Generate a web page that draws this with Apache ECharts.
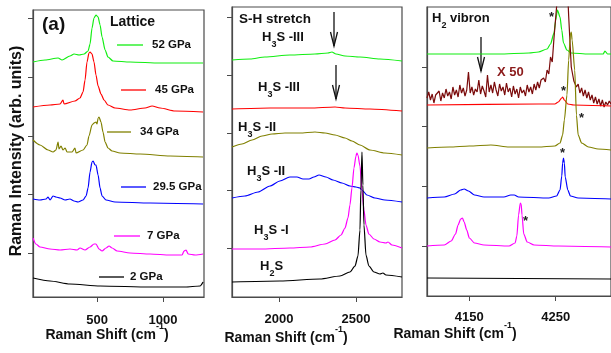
<!DOCTYPE html>
<html>
<head>
<meta charset="utf-8">
<script src="https://cdn.jsdelivr.net/npm/echarts@6.0.0/dist/echarts.min.js"></script>
<style>
html,body{margin:0;padding:0;background:#fff;}
#chart{width:611px;height:353px;}
</style>
</head>
<body>
<div id="chart"></div>
<script>
var FF = 'Liberation Sans, Arial, Helvetica, sans-serif';

var pressures = ['52 GPa', '45 GPa', '34 GPa', '29.5 GPa', '7 GPa', '2 GPa'];
var colors = ['#11ee11', '#ff0000', '#808000', '#0000ff', '#ff00ff', '#000000'];

// tick positions (cm-1) and y tick positions (arb. units)
var xTicks1 = [500, 1000];
var xTicks2 = [2000, 2500];
var xTicks3 = [4150, 4250];
var yTicks1 = [44, 103, 161, 220, 279];
var yTicks2 = [49, 107, 164, 222, 280];
var yTicks3 = [50, 110, 170, 229];

// lattice region
var latt52 = [[15,235],[106,237],[205,239],[235,237],[295,241],[326,243],[364,242],[402,243],[432,246],[447,253],[462,269],[477,279],[492,282],[508,280],[523,272],[538,260],[561,247],[583,240],[621,236],[750,235],[977,234],[1303,234]];
var latt45 = [[15,190],[144,192],[220,193],[242,197],[250,193],[333,196],[371,199],[394,205],[409,217],[424,235],[439,244],[447,245],[462,243],[477,235],[492,222],[508,211],[530,203],[553,197],[583,192],[636,189],[750,187],[864,189],[917,191],[977,189],[1091,186],[1303,185]];
var latt34 = [[15,157],[68,152],[129,147],[167,145],[189,147],[205,155],[212,148],[227,151],[242,147],[258,149],[273,145],[311,145],[333,149],[341,144],[394,147],[424,152],[439,161],[462,172],[477,174],[492,175],[500,173],[508,179],[515,180],[530,175],[545,165],[561,155],[583,149],[614,146],[674,144],[826,143],[1053,141],[1303,140]];
var latt295 = [[15,98],[68,97],[114,98],[129,100],[144,97],[167,101],[189,100],[220,99],[258,97],[295,98],[326,96],[356,95],[394,97],[417,101],[432,109],[447,125],[462,135],[470,136],[485,132],[492,132],[508,122],[523,109],[538,101],[568,97],[636,95],[902,94],[1303,93]];
var latt7 = [[15,59],[37,53],[68,50],[144,48],[220,47],[295,48],[349,47],[371,49],[409,47],[447,50],[477,53],[492,53],[515,48],[538,46],[568,49],[591,51],[614,49],[652,46],[750,44],[902,43],[1053,42],[1144,42],[1159,46],[1174,47],[1190,43],[1243,42],[1303,43]];
var latt2 = [[15,19],[144,16],[295,13],[523,11],[902,10],[1167,10],[1280,11],[1303,15]];

// S-H stretch region
var sh52 = [[1695,237],[1812,238],[1909,240],[2071,242],[2234,243],[2318,244],[2344,245],[2370,243],[2429,241],[2526,240],[2656,238],[2799,236]];
var sh45 = [[1695,188],[1942,189],[2201,189],[2364,190],[2429,189],[2591,188],[2799,186]];
var sh34 = [[1695,150],[1760,153],[1825,157],[1890,161],[1955,163],[2039,164],[2136,164],[2234,165],[2299,164],[2364,162],[2429,159],[2474,156],[2526,152],[2591,147],[2688,144],[2799,142]];
var sh295 = [[1695,99],[1779,101],[1864,105],[1942,111],[2006,116],[2071,120],[2117,120],[2156,118],[2195,118],[2227,120],[2260,122],[2305,120],[2351,117],[2409,114],[2461,111],[2500,110],[2526,109],[2545,106],[2571,102],[2623,99],[2688,97],[2799,95]];
var sh7 = [[1695,48],[1877,48],[2071,49],[2201,50],[2299,53],[2364,57],[2403,62],[2429,69],[2448,79],[2461,92],[2474,109],[2487,129],[2500,141],[2506,144],[2513,142],[2526,131],[2539,107],[2552,87],[2565,72],[2584,63],[2617,58],[2656,55],[2695,54],[2708,55],[2734,52],[2799,49]];
var sh2 = [[1695,15],[2006,16],[2266,18],[2396,21],[2461,25],[2494,31],[2513,41],[2526,67],[2532,107],[2539,145],[2545,112],[2552,72],[2565,42],[2584,31],[2617,25],[2656,23],[2675,24],[2695,22],[2799,20]];

// H2 vibron region
var vib52 = [[4101,242],[4184,242],[4219,243],[4230,244],[4240,247],[4244,252],[4248,263],[4250,276],[4252,286],[4255,279],[4257,266],[4259,253],[4263,246],[4268,243],[4288,242],[4305,242],[4307,245],[4310,242],[4314,242]];
var vib45x50 = [[4101,198],[4103,204],[4105,196],[4107,202],[4109,193],[4111,201],[4113,199],[4115,205],[4117,195],[4119,203],[4121,198],[4123,207],[4125,200],[4127,204],[4129,197],[4131,209],[4133,201],[4135,206],[4137,199],[4139,211],[4141,203],[4143,208],[4145,200],[4147,206],[4149,224],[4151,203],[4153,209],[4155,201],[4157,207],[4159,204],[4161,216],[4163,202],[4165,210],[4167,205],[4169,199],[4171,221],[4173,204],[4175,211],[4177,203],[4179,214],[4181,206],[4183,200],[4185,212],[4187,205],[4189,209],[4191,201],[4193,213],[4195,204],[4197,208],[4199,199],[4201,210],[4203,202],[4205,207],[4207,198],[4209,209],[4211,203],[4213,206],[4215,200],[4217,211],[4219,204],[4221,209],[4223,202],[4225,212],[4227,206],[4229,214],[4231,208],[4233,216],[4236,218],[4238,214],[4240,226],[4242,222],[4244,239],[4246,234],[4248,258],[4251,289],[4253,310],[4258,340],[4264,300],[4265,280],[4267,246],[4268,229],[4271,215],[4274,209],[4276,212],[4278,203],[4280,208],[4282,200],[4284,206],[4286,198],[4288,204],[4290,196],[4292,201],[4294,193],[4296,199],[4298,192],[4300,197],[4302,190],[4304,196],[4306,189],[4308,194],[4310,191],[4312,195],[4314,192]];
var vib45 = [[4101,191],[4230,192],[4249,192],[4253,194],[4257,198],[4258,199],[4260,196],[4264,192],[4271,191],[4314,190]];
var vib34 = [[4101,148],[4127,149],[4150,150],[4175,151],[4196,149],[4230,149],[4249,150],[4255,153],[4258,161],[4260,176],[4263,201],[4265,236],[4267,261],[4268,264],[4269,256],[4272,226],[4274,181],[4276,161],[4280,153],[4288,149],[4299,147],[4314,146]];
var vib295 = [[4101,98],[4121,99],[4133,102],[4140,106],[4144,107],[4149,105],[4156,101],[4167,99],[4190,99],[4198,101],[4202,101],[4207,99],[4242,98],[4251,100],[4255,106],[4257,120],[4258,133],[4259,138],[4260,133],[4261,119],[4264,106],[4267,100],[4276,98],[4314,97]];
var vib7 = [[4101,50],[4121,51],[4129,55],[4134,62],[4137,71],[4140,77],[4142,78],[4144,74],[4147,66],[4150,58],[4156,53],[4167,51],[4196,50],[4203,53],[4205,60],[4207,81],[4209,93],[4210,92],[4211,81],[4213,62],[4217,54],[4225,51],[4253,50],[4314,49]];
var vib2 = [[4101,18],[4314,17]];

var lattice = [latt52, latt45, latt34, latt295, latt7, latt2];
var stretch = [sh52, sh45, sh34, sh295, sh7, sh2];
var vibron = [vib52, vib45, vib34, vib295, vib7, vib2];

var axisColor = '#4a4a4a';

function xAx(i, min, max, ticks, margin) {
    return {
        type: 'value', gridIndex: i, min: min, max: max,
        axisLine: {show: true, onZero: false, lineStyle: {color: axisColor, width: 1.2}},
        axisTick: {show: true, inside: false, length: 5, customValues: ticks, lineStyle: {color: axisColor}},
        axisLabel: {
            customValues: ticks, margin: margin, fontSize: 13, fontWeight: 'bold', color: '#111', fontFamily: FF,
            formatter: function (v) { return String(v); }
        },
        splitLine: {show: false}
    };
}
function yAx(i, max, ticks) {
    return {
        type: 'value', gridIndex: i, min: 0, max: max,
        axisLine: {show: true, lineStyle: {color: axisColor, width: 1.2}},
        axisTick: {show: true, inside: false, length: 5, customValues: ticks, lineStyle: {color: axisColor}},
        axisLabel: {show: false, customValues: ticks},
        splitLine: {show: false}
    };
}
function line(name, data, color, idx, smooth) {
    return {
        name: name, type: 'line', data: data, xAxisIndex: idx, yAxisIndex: idx,
        symbol: 'none', showSymbol: false, silent: true,
        smooth: smooth, smoothMonotone: 'x',
        lineStyle: {color: color, width: 1.2}, itemStyle: {color: color}
    };
}

var series = [];
for (var i = 0; i < pressures.length; i++) {
    series.push(line(pressures[i], lattice[i], colors[i], 0, 0.25));
}
for (var i = 0; i < pressures.length; i++) {
    series.push(line(pressures[i], stretch[i], colors[i], 1, 0.25));
}
series.push(line(pressures[0], vibron[0], colors[0], 2, 0.25));
series.push(line('45 GPa X 50', vib45x50, '#7a0a0a', 2, false));
for (var i = 1; i < pressures.length; i++) {
    series.push(line(pressures[i], vibron[i], colors[i], 2, 0.25));
}

function txt(x, y, s, size, color, extra) {
    var st = {text: s, fontSize: size, fontWeight: 'bold', fontFamily: FF, fill: color || '#111', align: 'left', verticalAlign: 'middle'};
    var o = {type: 'text', x: x, y: y, silent: true, style: st};
    if (extra) for (var k in extra) o[k] = extra[k];
    return o;
}
// label with subscript: main, sub, main
function subTxt(x, yc, a, sub, b) {
    return {
        type: 'text', x: x, y: yc - 7, silent: true,
        style: {
            text: '{m|' + a + '}{s|' + sub + '}{m|' + b + '}',
            align: 'left', verticalAlign: 'top', fill: '#111',
            rich: {
                m: {fontSize: 13, fontWeight: 'bold', fontFamily: FF, lineHeight: 14, verticalAlign: 'top', fill: '#111'},
                s: {fontSize: 9, fontWeight: 'bold', fontFamily: FF, lineHeight: 9, padding: [9, 0, 0, 0], verticalAlign: 'top', fill: '#111'}
            }
        }
    };
}
function axName(x, y) {
    return {
        type: 'text', x: x, y: y, silent: true,
        style: {
            text: '{a|Raman Shift (cm}{p|-1}{a|)}',
            align: 'center', verticalAlign: 'middle', fill: '#111',
            rich: {
                a: {fontSize: 14, fontWeight: 'bold', fontFamily: FF, lineHeight: 20, verticalAlign: 'bottom', fill: '#111'},
                p: {fontSize: 9, fontWeight: 'bold', fontFamily: FF, lineHeight: 9, verticalAlign: 'top', fill: '#111'}
            }
        }
    };
}
function legLine(x1, x2, y, color) {
    return {type: 'line', silent: true, shape: {x1: x1, y1: y, x2: x2, y2: y}, style: {stroke: color, lineWidth: 1.3}};
}
function arrow(x, y1, y2) {
    return {
        type: 'group', silent: true,
        children: [
            {type: 'line', shape: {x1: x, y1: y1, x2: x, y2: y2}, style: {stroke: '#111', lineWidth: 1.3}},
            {type: 'polyline', shape: {points: [[x - 3.5, y2 - 14], [x, y2], [x + 3.5, y2 - 14]]}, style: {stroke: '#111', lineWidth: 1.3, fill: null}}
        ]
    };
}
function star(x, y) {
    return txt(x, y + 3, '*', 13, '#222', null);
}

var yName = txt(17, 151, 'Raman Intensity (arb. units)', 16, '#111', {rotation: Math.PI / 2});
yName.style.align = 'center';

var graphics = [
    yName,
    axName(107, 332), axName(286, 335), axName(455, 331),
    txt(42, 25, '(a)', 19, '#111'),
    txt(110, 22, 'Lattice', 14, '#111'),
    legLine(117, 143, 45, colors[0]), txt(152, 45, pressures[0], 11.5),
    legLine(121, 146, 90, colors[1]), txt(155, 90, pressures[1], 11.5),
    legLine(107, 131, 132, colors[2]), txt(140, 132, pressures[2], 11.5),
    legLine(121, 146, 187, colors[3]), txt(153, 187, pressures[3], 11.5),
    legLine(114, 140, 236, colors[4]), txt(147, 236, pressures[4], 11.5),
    legLine(99, 124, 277, colors[5]), txt(130, 277, pressures[5], 11.5),
    txt(239, 19, 'S-H stretch', 13.5, '#111'),
    subTxt(262, 38, 'H', '3', 'S -III'),
    arrow(334, 12, 46),
    subTxt(258, 88, 'H', '3', 'S -III'),
    arrow(336, 65, 99),
    subTxt(238, 128, 'H', '3', 'S -II'),
    subTxt(247, 172, 'H', '3', 'S -II'),
    subTxt(254, 231, 'H', '3', 'S -I'),
    subTxt(260, 267, 'H', '2', 'S'),
    subTxt(432, 19, 'H', '2', ' vibron'),
    arrow(481, 37, 71),
    txt(497, 72, 'X 50', 13, '#8b1a1a'),
    star(549, 14), star(561, 88), star(579, 115), star(560, 150), star(523, 218)
];

var option = {
    animation: false,
    textStyle: {fontFamily: FF},
    grid: [
        {left: 33, top: 10, width: 171, height: 287, show: true, borderColor: axisColor, borderWidth: 1.2},
        {left: 232, top: 7, width: 170, height: 290, show: true, borderColor: axisColor, borderWidth: 1.2},
        {left: 427, top: 7, width: 186, height: 289, show: true, borderColor: axisColor, borderWidth: 1.2}
    ],
    xAxis: [
        xAx(0, 15, 1310, xTicks1, 17),
        xAx(1, 1695, 2799, xTicks2, 16),
        xAx(2, 4101, 4314, xTicks3, 15)
    ],
    yAxis: [
        yAx(0, 287, yTicks1),
        yAx(1, 290, yTicks2),
        yAx(2, 289, yTicks3)
    ],
    series: series,
    graphic: graphics
};

var chart = echarts.init(document.getElementById('chart'));
chart.setOption(option);
</script>
</body>
</html>
